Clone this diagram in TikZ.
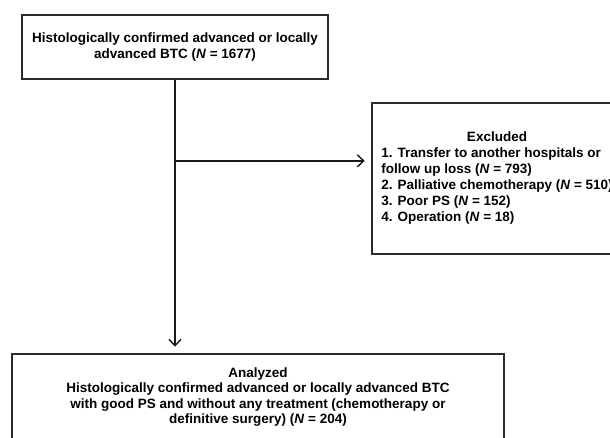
\documentclass[tikz,border=0pt]{standalone}
\usepackage{fontspec}
\setmainfont{Liberation Sans}
\usepackage{tikz}
\usetikzlibrary{arrows.meta, positioning, calc}
\usepackage{xcolor}
\definecolor{boxline}{HTML}{2b2b2b}
\definecolor{arrowgrey}{HTML}{1a1a1a}
\tikzset{
  flowbox/.style={rectangle, draw=boxline, fill=white, line width=1.2pt,
                  inner sep=0pt, align=center,
                  font=\fontsize{9.6}{10.9}\selectfont\bfseries},
  exclbox/.style={rectangle, draw=boxline, fill=white, line width=1.2pt,
                  inner sep=0pt,
                  font=\fontsize{9.6}{10.9}\selectfont\bfseries},
  link/.style={-{Straight Barb[length=1.6mm,width=3mm,line width=1pt]},
               line width=1.05pt, draw=arrowgrey, shorten >=1.6mm},
}
\newcommand{\Nn}{\textit{N}}

\begin{document}
\begin{tikzpicture}[x=0.025cm, y=-0.025cm]
  \useasboundingbox (0,0) rectangle (610,438);
  \clip (0,0) rectangle (610,438);

  \node[flowbox, minimum width=7.65cm, minimum height=1.6cm] (cohort) at (175,47)
    {Histologically confirmed advanced or locally\\advanced BTC (\Nn{} = 1677)};
  \node[exclbox, minimum width=6.25cm, minimum height=3.775cm] (excl) at (497,178.5)
    {\renewcommand{\arraystretch}{1.04}%
     \begin{tabular}{@{}l@{}}
     \multicolumn{1}{@{}c@{}}{Excluded}\\
     1. Transfer to another hospitals or\\
     follow up loss (\Nn{} = 793)\\
     2. Palliative chemotherapy (\Nn{} = 510)\\
     3. Poor PS (\Nn{} = 152)\\
     4. Operation (\Nn{} = 18)
     \end{tabular}};
  \node[flowbox, minimum width=12.3cm, minimum height=2.15cm] (analyzed) at (258,397)
    {Analyzed\\
     Histologically confirmed advanced or locally advanced BTC\\
     with good PS and without any treatment (chemotherapy or\\
     definitive surgery) (\Nn{} = 204)};

  \coordinate (split) at ($(cohort.south)+(0,81)$);
  \draw[link] (cohort.south) -- (cohort.south |- analyzed.north);
  \draw[link] (split) -- (split -| excl.west);
\end{tikzpicture}
\end{document}
